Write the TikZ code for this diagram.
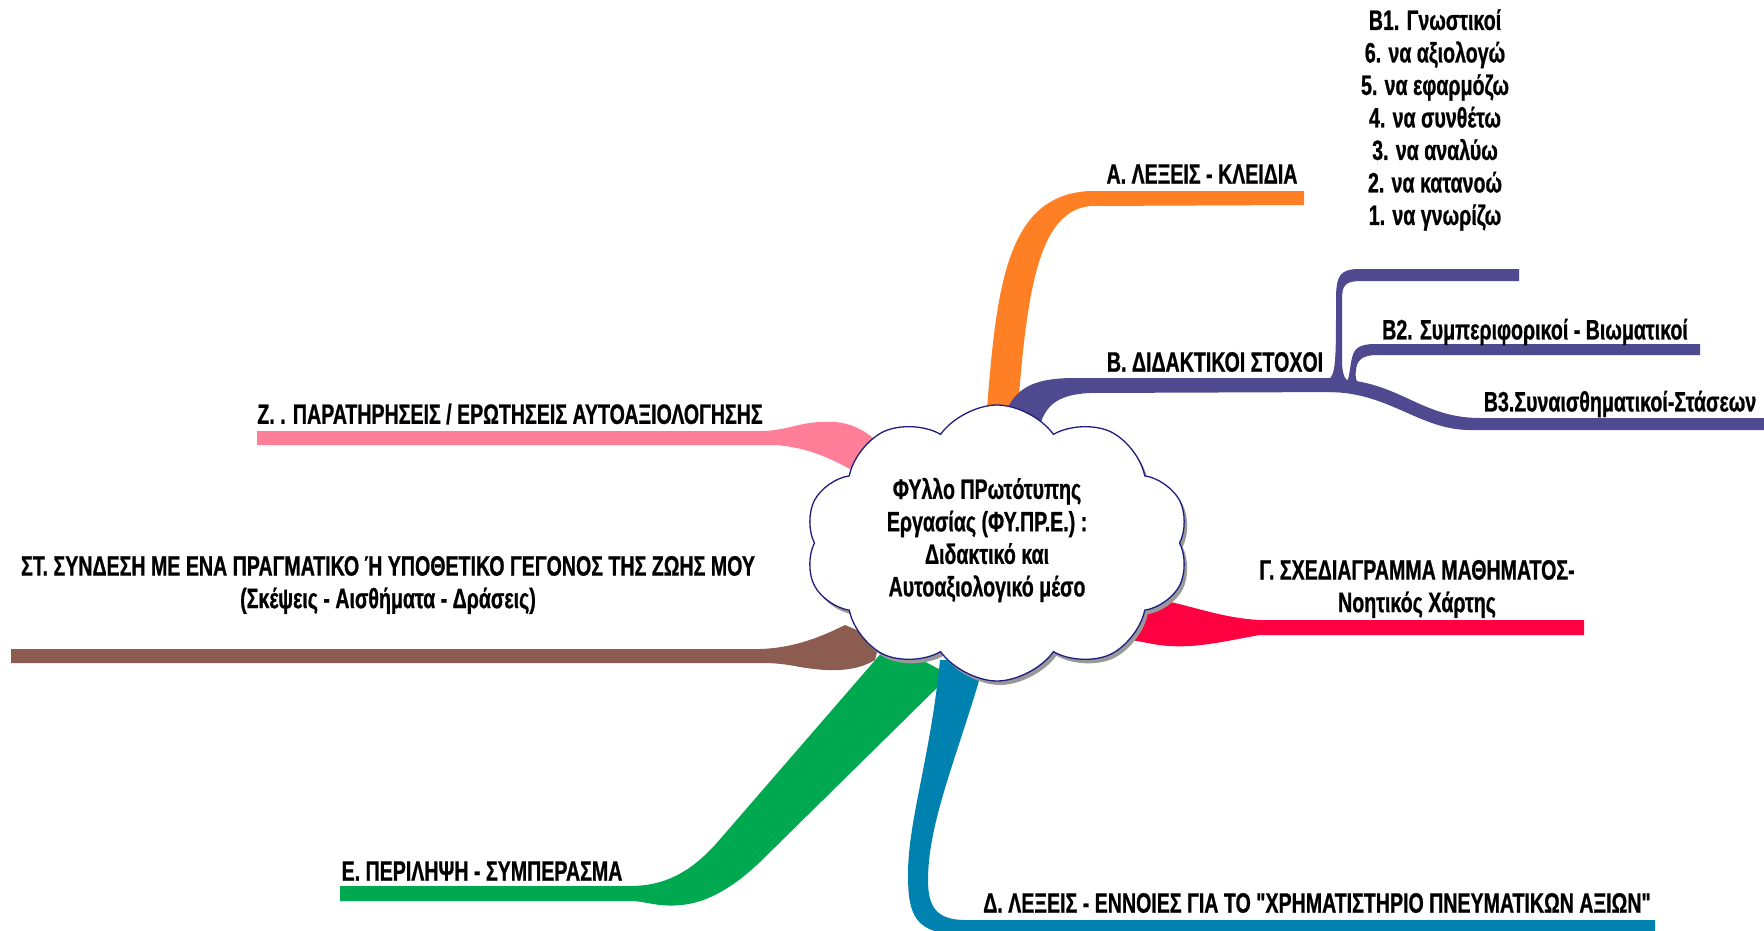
\documentclass[tikz,border=0pt]{standalone}
\usepackage{fontspec}
\newfontfamily\lab[FakeStretch=0.70,FakeBold=0.8]{Liberation Sans}
\usetikzlibrary{shapes.symbols,shadows}
\definecolor{corange}{HTML}{FF8024}
\definecolor{cpurple}{HTML}{4F4A90}
\definecolor{cpink}{HTML}{FF7F98}
\definecolor{cbrown}{HTML}{8C5C50}
\definecolor{cgreen}{HTML}{00A850}
\definecolor{cblue}{HTML}{0082B0}
\definecolor{cred}{HTML}{FF0040}
\definecolor{cnavy}{HTML}{1E1E80}
\tikzset{
  lbl/.style={inner sep=0pt,font=\lab\bfseries\fontsize{28}{32.5}\selectfont,align=center,text=black}
}
\begin{document}
\begin{tikzpicture}[x=1pt,y=-1pt]
\useasboundingbox (0,0) rectangle (1764,931);
\clip (0,0) rectangle (1764,931);
\fill[white] (0,0) rectangle (1764,931);

% A orange
\fill[corange] (984,450) .. controls (995,300) and (1000,195) .. (1090,191) -- (1304,191) -- (1304,205) -- (1090,206) .. controls (1035,212) and (1025,300) .. (1015,450) -- cycle;

% B purple main
\fill[cpurple] (995,450) .. controls (1005,395) and (1020,378) .. (1075,378) -- (1345,378) -- (1345,392) -- (1090,393) .. controls (1050,395) and (1040,410) .. (1035,450) -- cycle;
% B1
\fill[cpurple] (1328,380) .. controls (1336,375) and (1336,360) .. (1336,300) .. controls (1336,275) and (1340,269) .. (1360,269) -- (1519,269) -- (1519,281) -- (1362,281) .. controls (1345,281) and (1342,285) .. (1342,300) -- (1342,360) .. controls (1342,375) and (1345,380) .. (1350,382) -- cycle;
% B2
\fill[cpurple] (1347,382) .. controls (1350,375) and (1350,365) .. (1352,358) .. controls (1354,348) and (1360,344) .. (1375,344) -- (1700,344) -- (1700,355) -- (1378,355) .. controls (1362,355) and (1357,360) .. (1356,370) .. controls (1355,378) and (1356,382) .. (1360,384) -- cycle;
% B3
\fill[cpurple] (1335,379) .. controls (1400,381) and (1420,418) .. (1480,418) -- (1770,418) -- (1770,430) -- (1470,430) .. controls (1420,430) and (1390,393) .. (1330,392) -- cycle;

% Z pink
\fill[cpink] (257,431) -- (760,431) .. controls (790,431) and (800,420) .. (835,422) .. controls (860,424) and (880,440) .. (890,460) -- (870,480) .. controls (850,470) and (820,448) .. (775,445) -- (257,445) -- cycle;

% ST brown
\fill[cbrown] (11,649) -- (760,649) .. controls (790,648) and (815,640) .. (845,625) -- (880,640) -- (875,660) .. controls (855,672) and (830,672) .. (800,667) .. controls (785,664) and (775,663) .. (760,663) -- (11,663) -- cycle;

% E green
\fill[cgreen] (340,886) -- (630,886) .. controls (665,886) and (690,872) .. (715,845) -- (890,643) -- (950,675) -- (760,862) .. controls (720,900) and (690,908) .. (660,905) .. controls (645,903) and (640,901) .. (630,901) -- (340,901) -- cycle;

% D blue
\fill[cblue] (940,660) .. controls (930,760) and (908,820) .. (908,875) .. controls (908,915) and (915,934) .. (960,934) -- (1655,934) -- (1655,920) -- (965,920) .. controls (935,920) and (928,905) .. (928,880) .. controls (928,820) and (960,750) .. (985,660) -- cycle;

% G red
\fill[cred] (1130,595) .. controls (1180,600) and (1215,618) .. (1260,620) -- (1584,620) -- (1584,635) -- (1260,635) .. controls (1230,640) and (1200,648) .. (1170,646) .. controls (1150,645) and (1140,640) .. (1125,640) -- cycle;

% cloud
\node[cloud, cloud puffs=10, cloud puff arc=110, cloud ignores aspect, minimum width=384pt, minimum height=276pt, draw=cnavy, line width=1.3pt, fill=white, drop shadow={shadow xshift=3pt, shadow yshift=-4pt, fill=black!40, opacity=1}] (c) at (997,543) {};
\node[lbl] (ct) at (987,540) {ΦΥλλο ΠΡωτότυπης\\Εργασίας (ΦΥ.ΠΡ.Ε.) :\\Διδακτικό και\\Αυτοαξιολογικό μέσο};

% labels
\node[lbl] (la) at (1202,174) {Α. ΛΕΞΕΙΣ - ΚΛΕΙΔΙΑ};
\node[lbl] (lb) at (1215,362) {Β. ΔΙΔΑΚΤΙΚΟΙ ΣΤΟΧΟΙ};
\node[lbl] (lb1) at (1435,120) {Β1. Γνωστικοί\\6. να αξιολογώ\\5. να εφαρμόζω\\4. να συνθέτω\\3. να αναλύω\\2. να κατανοώ\\1. να γνωρίζω};
\node[lbl] (lb2) at (1535,332) {Β2. Συμπεριφορικοί - Βιωματικοί};
\node[lbl] (lb3) at (1620,404) {Β3.Συναισθηματικοί-Στάσεων};
\node[lbl] (lg) at (1417,589) {Γ. ΣΧΕΔΙΑΓΡΑΜΜΑ ΜΑΘΗΜΑΤΟΣ-\\Νοητικός Χάρτης};
\node[lbl] (ld) at (1317,903) {Δ. ΛΕΞΕΙΣ - ΕΝΝΟΙΕΣ ΓΙΑ ΤΟ "ΧΡΗΜΑΤΙΣΤΗΡΙΟ ΠΝΕΥΜΑΤΙΚΩΝ ΑΞΙΩΝ"};
\node[lbl] (le) at (482,871) {Ε. ΠΕΡΙΛΗΨΗ - ΣΥΜΠΕΡΑΣΜΑ};
\node[lbl] (lst) at (388,585) {ΣΤ. ΣΥΝΔΕΣΗ ΜΕ ΕΝΑ ΠΡΑΓΜΑΤΙΚΟ Ή ΥΠΟΘΕΤΙΚΟ ΓΕΓΟΝΟΣ ΤΗΣ ΖΩΗΣ ΜΟΥ\\(Σκέψεις - Αισθήματα - Δράσεις)};
\node[lbl] (lz) at (510,414) {Ζ. . ΠΑΡΑΤΗΡΗΣΕΙΣ / ΕΡΩΤΗΣΕΙΣ ΑΥΤΟΑΞΙΟΛΟΓΗΣΗΣ};
\end{tikzpicture}
\end{document}
